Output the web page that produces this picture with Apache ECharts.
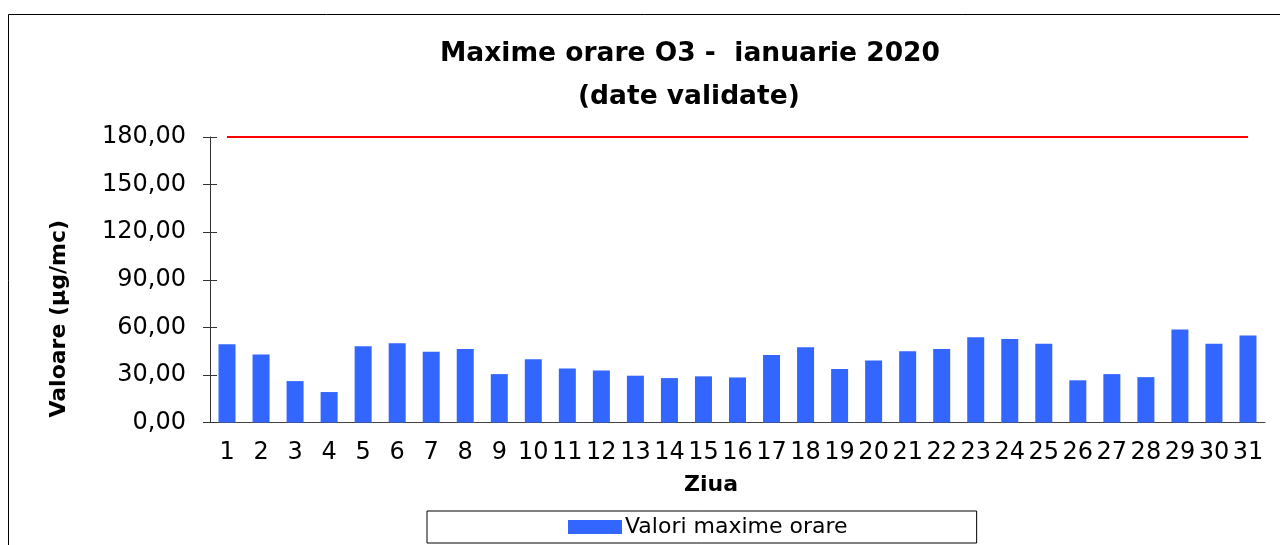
<!DOCTYPE html>
<html>
<head>
<meta charset="utf-8">
<script src="https://cdn.jsdelivr.net/npm/echarts@6/dist/echarts.min.js"></script>
<style>
html,body{margin:0;padding:0;background:#fff;}
#chart{width:1280px;height:545px;}
</style>
</head>
<body>
<div id="chart"></div>
<script>
const days = ['1','2','3','4','5','6','7','8','9','10','11','12','13','14','15','16','17','18','19','20','21','22','23','24','25','26','27','28','29','30','31'];
const maxValues = [49.4, 42.9, 26.1, 19.2, 48.0, 50.0, 44.6, 46.3, 30.5, 39.8, 34.1, 32.8, 29.5, 28.0, 29.1, 28.4, 42.5, 47.5, 33.7, 39.1, 45.0, 46.3, 53.8, 52.7, 49.6, 26.6, 30.5, 28.6, 58.7, 49.6, 54.9];
const limitValue = 180;
const limitLine = days.map(() => limitValue);
const yMin = 0, yMax = 180, yStep = 30;
const titleLine1 = 'Maxime orare O3 -  ianuarie 2020';
const titleLine2 = '(date validate)';

const FONT = 'DejaVu Sans';
const chart = echarts.init(document.getElementById('chart'), null, {renderer: 'canvas'});
const fmt = v => v.toFixed(2).replace('.', ',');
const titleStyle = {fontFamily: FONT, fontWeight: 'bold', fontSize: 26.5, color: '#000'};

chart.setOption({
  animation: false,
  backgroundColor: '#ffffff',
  graphic: [{
    type: 'rect',
    shape: {x: 8.5, y: 14.5, width: 1400, height: 700},
    style: {fill: 'none', stroke: '#000', lineWidth: 1},
    silent: true,
    z: -1
  }],
  title: [{
    text: titleLine1,
    left: 440,
    top: 41,
    padding: 0,
    textStyle: titleStyle
  }, {
    text: titleLine2,
    left: 578,
    top: 84,
    padding: 0,
    textStyle: titleStyle
  }],
  legend: {
    data: ['Valori maxime orare'],
    icon: 'rect',
    left: 427,
    top: 511,
    padding: [5, 129, 5, 141],
    itemWidth: 54,
    itemHeight: 14,
    itemGap: 0,
    borderColor: '#000',
    borderWidth: 1,
    textStyle: {fontFamily: FONT, fontSize: 22, color: '#000', padding: [0, 0, 0, -2]}
  },
  grid: {left: 210, right: 15, top: 137, bottom: 122.5},
  xAxis: {
    type: 'category',
    data: days,
    boundaryGap: true,
    name: 'Ziua',
    nameLocation: 'middle',
    nameGap: 52,
    nameTextStyle: {fontFamily: FONT, fontWeight: 'bold', fontSize: 22, color: '#000', padding: [0, 53, 0, 0]},
    axisLine: {lineStyle: {color: '#444', width: 1}},
    axisTick: {show: false},
    axisLabel: {fontFamily: FONT, fontSize: 24, color: '#000', margin: 18, interval: 0}
  },
  yAxis: [{
    type: 'value',
    min: yMin, max: yMax, interval: yStep,
    position: 'left',
    name: 'Valoare (µg/mc)',
    nameLocation: 'middle',
    nameGap: 140,
    nameRotate: 90,
    nameTextStyle: {fontFamily: FONT, fontWeight: 'bold', fontSize: 22, color: '#000', padding: [0, 78, 0, 0]},
    axisLine: {show: true, lineStyle: {color: '#333', width: 1}},
    axisTick: {show: true, length: 7, inside: false, lineStyle: {color: '#333'}},
    axisLabel: {fontFamily: FONT, fontSize: 24, color: '#000', margin: 24, formatter: fmt},
    splitLine: {show: false}
  }, {
    type: 'value',
    min: yMin, max: yMax, interval: yStep,
    position: 'left',
    offset: 0,
    axisLine: {show: false},
    axisTick: {show: true, length: 7, inside: true, lineStyle: {color: '#333'}},
    axisLabel: {show: false},
    splitLine: {show: false}
  }],
  series: [{
    name: 'Valori maxime orare',
    type: 'bar',
    data: maxValues,
    barWidth: 17,
    itemStyle: {color: '#3366FF'},
    yAxisIndex: 0
  }, {
    name: 'Limita',
    type: 'line',
    data: limitLine,
    showSymbol: false,
    symbol: 'none',
    lineStyle: {color: '#FF0000', width: 2},
    itemStyle: {color: '#FF0000'},
    yAxisIndex: 0,
    z: 5
  }]
});
</script>
</body>
</html>
